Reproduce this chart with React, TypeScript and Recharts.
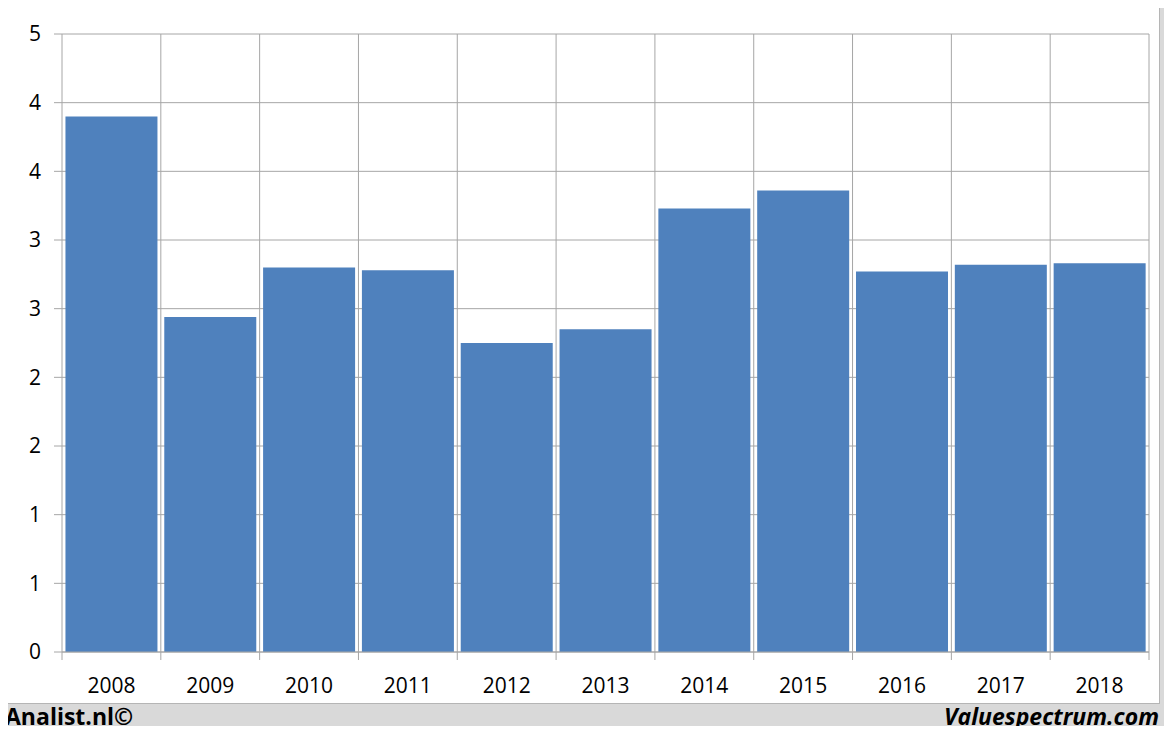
import { BarChart, Bar, XAxis, YAxis, CartesianGrid } from "recharts";

const years = ["2008", "2009", "2010", "2011", "2012", "2013", "2014", "2015", "2016", "2017", "2018"];
const values = [3.9, 2.44, 2.8, 2.78, 2.25, 2.35, 3.23, 3.36, 2.77, 2.82, 2.83];
const yTicks = [0, 0.5, 1, 1.5, 2, 2.5, 3, 3.5, 4, 4.5];

const data = years.map((year, i) => ({ year, value: values[i] }));

const W = 1172;
const H = 734;
const M = { top: 34, right: 23, bottom: 42, left: 0 };
const GRID = "#a6a6a6";
const FONT = "'Open Sans', 'Noto Sans', sans-serif";

function XTick(props: any) {
    const { x, y, payload, index } = props;
    const plotW = W - 62 - M.right;
    const bw = plotW / years.length;
    const left = x - bw / 2;
    return (
        <g>
            <line x1={left} y1={y - 8} x2={left} y2={y} stroke={GRID} />
            {index === years.length - 1 && (
                <line x1={left + bw} y1={y - 8} x2={left + bw} y2={y} stroke={GRID} />
            )}
            <text
                x={x}
                y={y + 25}
                textAnchor="middle"
                dominantBaseline="central"
                fontSize={21}
                fontFamily={FONT}
                fill="#000"
            >
                {payload.value}
            </text>
        </g>
    );
}

export default function App() {
    return (
        <div
            style={{
                position: "relative",
                margin: -8,
                width: W,
                height: H,
                background: "#d9d9d9",
                overflow: "hidden",
            }}
        >
            <div
                style={{
                    position: "absolute",
                    left: 7,
                    top: 7,
                    width: 1151,
                    height: 695,
                    background: "#fff",
                    border: "1px solid #b5b5b5",
                }}
            />
            <div style={{ position: "absolute", left: 0, top: 0 }}>
                <BarChart width={W} height={H} data={data} margin={M} barCategoryGap="3.5%">
                    <CartesianGrid
                        stroke={GRID}
                        verticalCoordinatesGenerator={({ offset }: any) =>
                            Array.from({ length: years.length + 1 }, (_, i) =>
                                offset.left + (i * offset.width) / years.length
                            )
                        }
                    />
                    <XAxis
                        dataKey="year"
                        height={40}
                        axisLine={{ stroke: GRID }}
                        tickLine={false}
                        interval={0}
                        tick={<XTick />}
                    />
                    <YAxis
                        width={62}
                        domain={[0, 4.5]}
                        ticks={yTicks}
                        interval={0}
                        tickFormatter={(v: number) => String(Math.round(v))}
                        axisLine={false}
                        tickLine={{ stroke: GRID }}
                        tickSize={8}
                        tickMargin={13}
                        tick={{ fontSize: 21, fontFamily: FONT, fill: "#000" }}
                    />
                    <Bar dataKey="value" fill="#4f81bd" isAnimationActive={false} />
                </BarChart>
            </div>
            <div
                style={{
                    position: "absolute",
                    left: 5,
                    top: 700,
                    lineHeight: "32px",
                    fontFamily: FONT,
                    fontWeight: 700,
                    fontSize: 23,
                    color: "#000",
                }}
            >
                Analist.nl©
            </div>
            <div
                style={{
                    position: "absolute",
                    right: 13,
                    top: 700,
                    lineHeight: "32px",
                    fontFamily: FONT,
                    fontWeight: 700,
                    fontStyle: "italic",
                    fontSize: 23,
                    color: "#000",
                }}
            >
                Valuespectrum.com
            </div>
        </div>
    );
}
